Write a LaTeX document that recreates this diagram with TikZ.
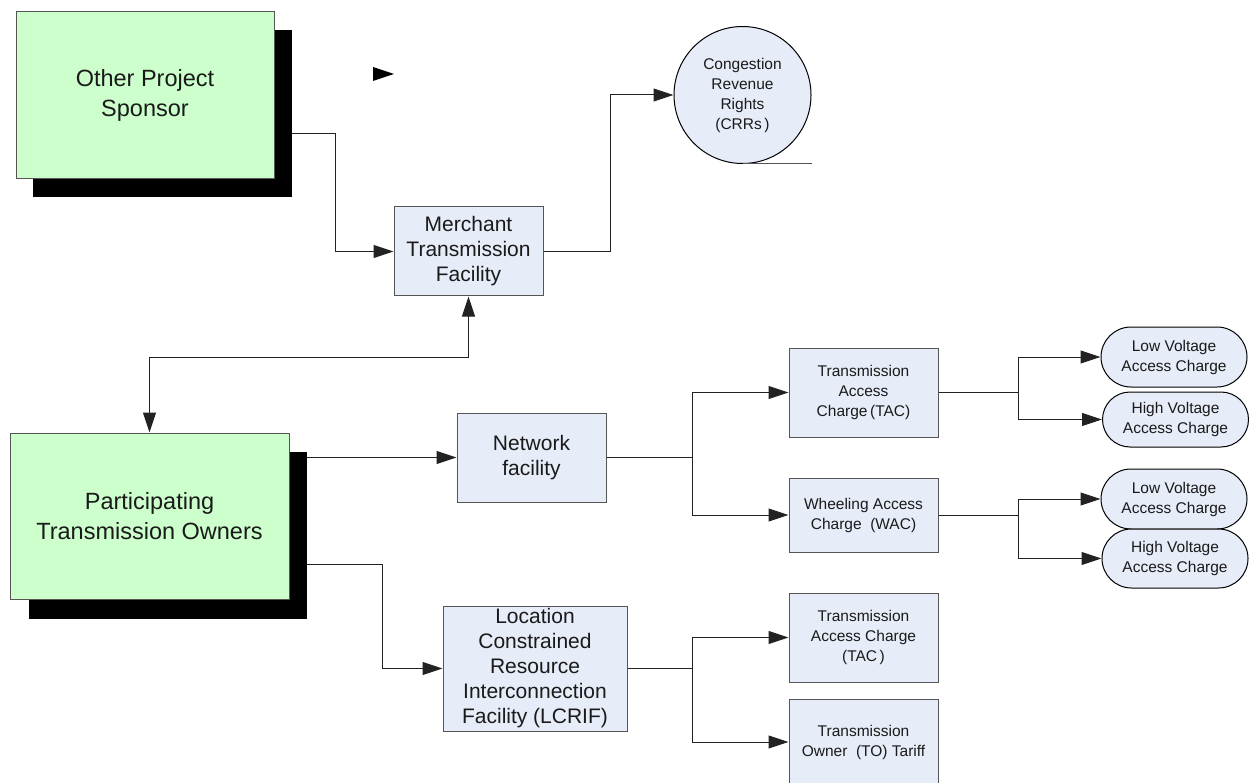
\documentclass[tikz,border=0pt]{standalone}
\usepackage{fontspec}
\setmainfont{Liberation Sans}
\usetikzlibrary{arrows.meta,shapes.misc,calc}
\definecolor{greenfill}{HTML}{CCFFCC}
\definecolor{bluefill}{HTML}{E6ECF8}
\definecolor{boxgray}{HTML}{555555}
\definecolor{linecol}{HTML}{222222}
\definecolor{txt}{HTML}{1A1A1A}
\newcommand{\fbig}{\fontsize{23.5}{30}\selectfont}
\newcommand{\fmed}{\fontsize{21}{25}\selectfont}
\newcommand{\fsmall}{\fontsize{15.5}{20}\selectfont}
\tikzset{
  shadowbox/.style={rectangle, fill=black, draw=none, inner sep=0pt},
  greenbox/.style={rectangle, draw=boxgray, fill=greenfill, line width=1pt, inner sep=0pt, align=center, font=\fbig, text=txt},
  bluebox/.style={rectangle, draw=boxgray, fill=bluefill, line width=1pt, inner sep=0pt, align=center, text=txt},
  pillbox/.style={rounded rectangle, draw=black, fill=bluefill, line width=1pt, inner sep=0pt, align=center, font=\fsmall, text=txt, minimum width=146pt},
  conn/.style={line width=1pt, draw=linecol},
  arr/.style={conn, -{Triangle[length=20pt,width=13pt]}},
  darr/.style={conn, {Triangle[length=20pt,width=13pt]}-{Triangle[length=20pt,width=13pt]}}
}
\begin{document}
\begin{tikzpicture}[x=1pt,y=-1pt]
\useasboundingbox (0,0) rectangle (1249,783);
% shadows
\node[shadowbox, minimum width=259pt, minimum height=167pt] (opssh) at (162.5,113.5) {};
\node[shadowbox, minimum width=278pt, minimum height=167pt] (ptosh) at (168,535.5) {};
% main boxes
\node[greenbox, minimum width=258pt, minimum height=167pt] (ops) at (145,95.5) {Other Project\\Sponsor};
\node[greenbox, minimum width=279pt, minimum height=166pt] (pto) at (149.5,516) {Participating\\Transmission Owners};
\node[bluebox, font=\fmed, minimum width=149pt, minimum height=89pt] (merch) at (468.5,251.5) {Merchant\\Transmission\\Facility};
\node[circle, draw=black, fill=bluefill, line width=1pt, inner sep=0pt, minimum size=137pt, align=center, font=\fsmall, text=txt] (crr) at (742.5,95) {Congestion\\Revenue\\Rights\\(CRRs\,)};
\node[bluebox, font=\fmed, minimum width=149pt, minimum height=89pt] (net) at (531.5,457.5) {Network\\facility};
\node[bluebox, font=\fmed, minimum width=184pt, minimum height=125pt] (lcrif) at (535,668.5) {Location\\Constrained\\Resource\\Interconnection\\Facility (LCRIF)};
\node[bluebox, font=\fsmall, minimum width=149pt, minimum height=89pt] (tac) at (863.5,392.5) {Transmission\\Access\\Charge\,(TAC)};
\node[bluebox, font=\fsmall, minimum width=149pt, minimum height=74pt] (wac) at (863.5,515) {Wheeling Access\\Charge~~(WAC)};
\node[bluebox, font=\fsmall, minimum width=149pt, minimum height=89pt] (tac2) at (863.5,637.5) {Transmission\\Access Charge\\(TAC\,)};
\node[bluebox, font=\fsmall, minimum width=149pt, minimum height=86pt] (to) at (863.5,742) {Transmission\\Owner~~(TO)~Tariff};
\node[pillbox, minimum height=60pt] (lv1) at (1174,357) {Low Voltage\\Access Charge};
\node[pillbox, minimum height=55pt] (hv1) at (1175.5,419.5) {High Voltage\\Access Charge};
\node[pillbox, minimum height=60pt] (lv2) at (1174,499) {Low Voltage\\Access Charge};
\node[pillbox, minimum height=59pt] (hv2) at (1175,558.5) {High Voltage\\Access Charge};
% stray arrowhead
\fill[black] (373,67) -- (394,74) -- (373,81) -- cycle;
% CRR underline
\draw[line width=1pt, draw=boxgray] (crr.south) -- (crr.south -| crr.east);
% connectors
\draw[arr] ([yshift=-20.5pt]opssh.east) -| ($(merch.west)+(-58,0)$) -- (merch.west);
\draw[arr] (merch.east) -- ++(67,0) |- (crr.west);
\draw[darr] (merch.south) |- ($(pto.north)+(0,-75)$) -- (pto.north);
\draw[arr] (net.west -| ptosh.east) -- (net.west);
\draw[arr] ([yshift=-28.5pt]ptosh.east) -| ($(lcrif.west)+(-60,0)$) -- (lcrif.west);
\coordinate (nb) at (692,457.5);
\coordinate (lb) at (692,668.5);
\coordinate (tb) at (1018,392.5);
\coordinate (wb) at (1018,515);
\draw[conn] (net.east) -- (nb);
\draw[arr] (nb) |- (tac.west);
\draw[arr] (nb) |- (wac.west);
\draw[conn, line width=1.6pt] (lcrif.east) -- (lb);
\draw[arr] (lb) |- (tac2.west);
\draw[arr] (lb) |- (to.west);
\draw[conn] (tac.east) -- (tb);
\draw[arr] (tb) |- (lv1.west);
\draw[arr] (tb) |- (hv1.west);
\draw[conn] (wac.east) -- (wb);
\draw[arr] (wb) |- (lv2.west);
\draw[arr] (wb) |- (hv2.west);
\end{tikzpicture}
\end{document}
